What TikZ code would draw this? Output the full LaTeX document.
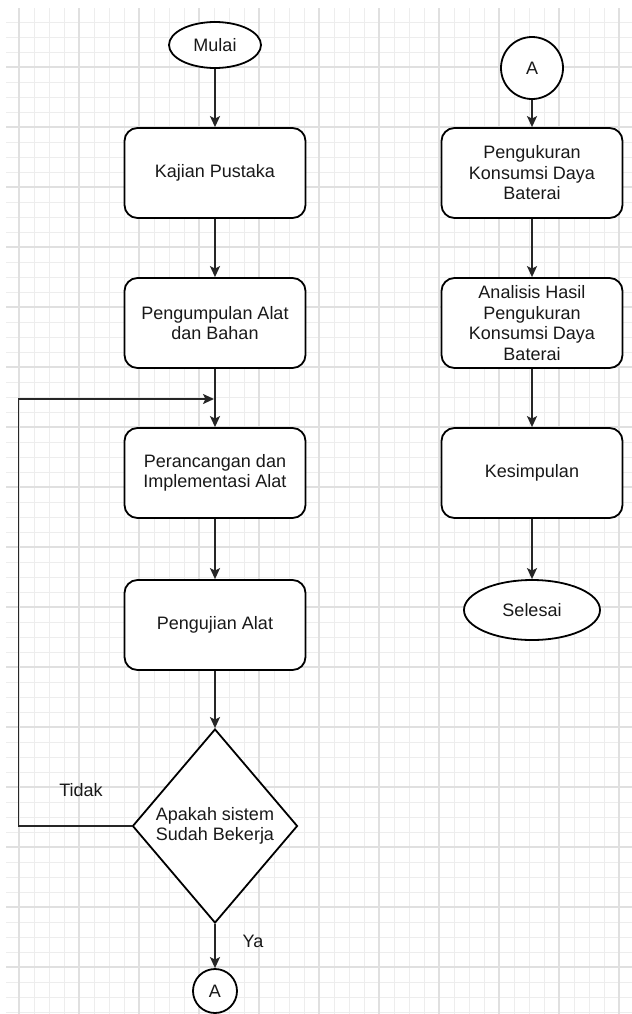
\documentclass[tikz,border=0pt]{standalone}
\usepackage{fontspec}
\setmainfont{Liberation Sans}
\usetikzlibrary{shapes.geometric,arrows.meta}

\tikzset{
  teks/.style={font=\fontsize{18bp}{20.5bp}\selectfont, align=center, text=black!90},
  proses/.style={teks, draw, fill=white, line width=1.8bp, rounded corners=13bp,
    minimum width=181bp, minimum height=90bp},
  terminal/.style={teks, draw, fill=white, ellipse, line width=1.8bp, inner sep=0pt},
  konektor/.style={teks, draw, fill=white, circle, line width=1.8bp, inner sep=0pt},
  keputusan/.style={teks, draw, fill=white, diamond, aspect=0.85, line width=1.8bp,
    inner sep=0pt, minimum width=165bp, minimum height=194bp},
  panah/.style={-{Stealth[length=11bp,width=10bp,inset=2.5bp]}, line width=1.8bp, black!85}
}

\begin{document}
\begin{tikzpicture}[x=1bp,y=-1bp]
\useasboundingbox[fill=white] (0,0) rectangle (632,1014);
% grid of the drawing canvas
\begin{scope}
\clip (6,8) rectangle (632,1014);
\foreach \gx in {4,19,...,634} \draw[black!7, line width=1bp] (\gx,0) -- (\gx,1014);
\foreach \gy in {7,22,...,1020} \draw[black!7, line width=1bp] (0,\gy) -- (632,\gy);
\foreach \gx in {19,79,...,619} \draw[black!12, line width=1.3bp] (\gx,0) -- (\gx,1014);
\foreach \gy in {7,67,...,967} \draw[black!12, line width=1.3bp] (0,\gy) -- (632,\gy);
\end{scope}

% left column
\node[terminal, minimum width=92bp, minimum height=46bp] (mulai) at (215,45) {Mulai};
\node[proses] (kajian) at (215,173) {Kajian Pustaka};
\node[proses] (kumpul) at (215,323) {Pengumpulan Alat\\dan Bahan};
\node[proses] (rancang) at (215,473) {Perancangan dan\\Implementasi Alat};
\node[proses] (uji) at (215,625) {Pengujian Alat};
\node[keputusan] (cek) at (215,826) {Apakah sistem\\Sudah Bekerja};
\node[konektor, minimum size=44bp] (ab) at (215,991) {A};
\coordinate (masuk) at (214,399);

% right column
\node[konektor, minimum size=62bp] (aa) at (532,68) {A};
\node[proses] (ukur) at (532,173) {Pengukuran\\Konsumsi Daya\\Baterai};
\node[proses] (analisis) at (532,323) {Analisis Hasil\\Pengukuran\\Konsumsi Daya\\Baterai};
\node[proses] (simpul) at (532,473) {Kesimpulan};
\node[terminal, minimum width=136bp, minimum height=60bp] (selesai) at (532,610) {Selesai};

\draw[panah] (mulai) -- (kajian);
\draw[panah] (kajian) -- (kumpul);
\draw[panah] (kumpul) -- (rancang);
\draw[panah] (rancang) -- (uji);
\draw[panah] (uji) -- (cek);
\draw[panah] (cek) -- (ab);
% back to the design step
\draw[panah] (cek.west) -- ++(-113,0) |- (masuk);
\node[teks] (tidak) at (81,790) {Tidak};
\node[teks] (ya) at (253,941) {Ya};

\draw[panah] (aa) -- (ukur);
\draw[panah] (ukur) -- (analisis);
\draw[panah] (analisis) -- (simpul);
\draw[panah] (simpul) -- (selesai);
\end{tikzpicture}
\end{document}
